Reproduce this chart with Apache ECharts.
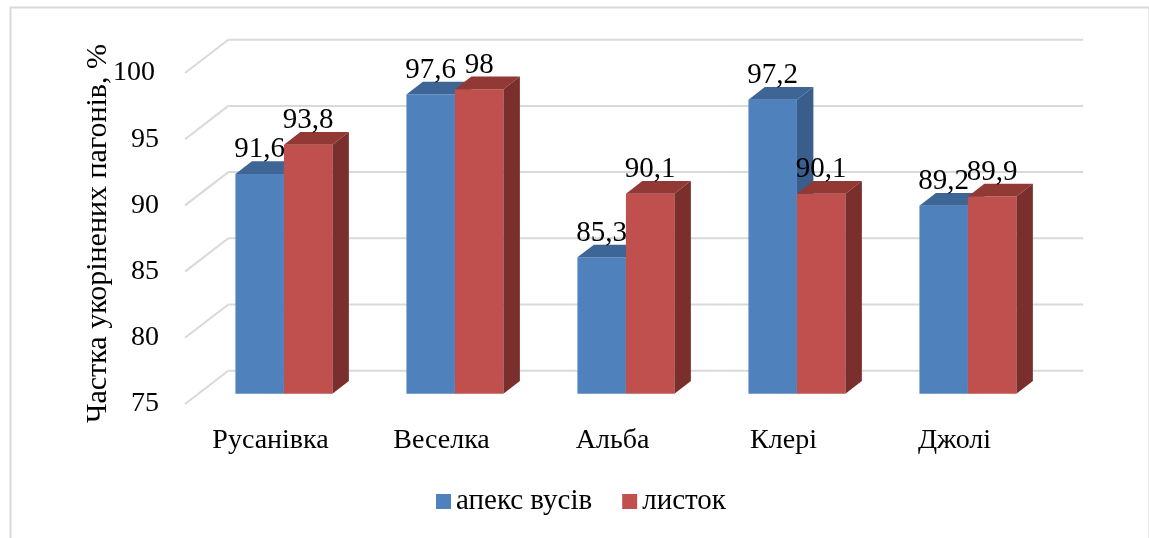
<!DOCTYPE html>
<html>
<head>
<meta charset="utf-8">
<script src="https://cdn.jsdelivr.net/npm/echarts@6/dist/echarts.min.js"></script>
<style>
  html, body { margin: 0; padding: 0; background: #ffffff; }
  #chart { width: 1149px; height: 538px; }
</style>
</head>
<body>
<div id="chart"></div>
<script>
// Rooting share of shoots by cultivar and cutting type
const categories = ['Русанівка', 'Веселка', 'Альба', 'Клері', 'Джолі'];
const apexValues = [91.6, 97.6, 85.3, 97.2, 89.2];   // апекс вусів
const leafValues = [93.8, 98, 90.1, 90.1, 89.9];     // листок
const yTicks = [75, 80, 85, 90, 95, 100];
const seriesNames = ['апекс вусів', 'листок'];

const FONT = '"Liberation Serif", "Times New Roman", serif';

// pseudo-3D geometry: wall depth, bar front offset and bar depth (pixels)
const WALL_DX = 43.3, WALL_DY = 33.3;
const BAR_FRONT = 0.31;   // fraction of wall depth where the bar fronts sit
const BAR_DEPTH = 0.38;   // fraction of wall depth taken by a bar
const BAR_RATIO = 0.2836; // single bar width as share of category band

const palette = [
  { front: '#4f81bd', top: '#3d6596', side: '#395e8b' },
  { front: '#c0504d', top: '#923936', side: '#7a2f2d' }
];

const fmt = v => String(v).replace('.', ',');

function barGeometry(api, catIdx, value, s) {
  const base = api.coord([catIdx, yTicks[0]]);
  const top = api.coord([catIdx, value]);
  const band = api.size([1, 0])[0];
  const bw = band * BAR_RATIO;
  const fdx = WALL_DX * BAR_FRONT, fdy = WALL_DY * BAR_FRONT;
  const x0 = base[0] - bw + s * bw + fdx;
  return {
    x0: x0, x1: x0 + bw,
    yT: top[1] - fdy, yB: base[1] - fdy,
    ddx: WALL_DX * BAR_DEPTH, ddy: WALL_DY * BAR_DEPTH
  };
}

function makeBarRenderer(s) {
  return function (params, api) {
    const i = api.value(0), v = api.value(1);
    const g = barGeometry(api, i, v, s);
    const c = palette[s];
    return {
      type: 'group',
      children: [
        { type: 'rect', shape: { x: g.x0, y: g.yT, width: g.x1 - g.x0, height: g.yB - g.yT },
          style: { fill: c.front } },
        { type: 'polygon', shape: { points: [[g.x0, g.yT], [g.x1, g.yT], [g.x1 + g.ddx, g.yT - g.ddy], [g.x0 + g.ddx, g.yT - g.ddy]] },
          style: { fill: c.top } },
        { type: 'polygon', shape: { points: [[g.x1, g.yT], [g.x1 + g.ddx, g.yT - g.ddy], [g.x1 + g.ddx, g.yB - g.ddy], [g.x1, g.yB]] },
          style: { fill: c.side } }
      ]
    };
  };
}

function renderLabel(params, api) {
  const i = api.value(0), v = api.value(1), s = api.value(2);
  const g = barGeometry(api, i, v, s);
  return {
    type: 'text',
    style: {
      text: fmt(v), x: (g.x0 + g.x1) / 2, y: g.yT - g.ddy + 3,
      align: 'center', verticalAlign: 'bottom',
      font: '29px ' + FONT, fill: '#000000'
    }
  };
}

function renderWall(params, api) {
  const v = api.value(0);
  const cs = params.coordSys;
  const y = api.coord([0, v])[1];
  const lineStyle = { stroke: '#d9d9d9', lineWidth: 2 };
  return {
    type: 'group',
    children: [
      { type: 'line', shape: { x1: cs.x, y1: y, x2: cs.x + WALL_DX, y2: y - WALL_DY }, style: lineStyle },
      { type: 'line', shape: { x1: cs.x + WALL_DX, y1: y - WALL_DY, x2: cs.x + cs.width + WALL_DX, y2: y - WALL_DY }, style: lineStyle }
    ]
  };
}

const labelData = [];
apexValues.forEach((v, i) => labelData.push([i, v, 0]));
leafValues.forEach((v, i) => labelData.push([i, v, 1]));

const chart = echarts.init(document.getElementById('chart'), null, { renderer: 'canvas' });
chart.setOption({
  animation: false,
  backgroundColor: '#ffffff',
  textStyle: { fontFamily: FONT },
  graphic: [{
    type: 'rect', left: 8, top: 5, shape: { width: 1139, height: 560 },
    style: { fill: 'none', stroke: '#d9d9d9', lineWidth: 2 }, silent: true
  }],
  grid: { left: 185, top: 73, width: 855, height: 331 },
  xAxis: {
    type: 'category', data: categories,
    axisLine: { show: false }, axisTick: { show: false },
    axisLabel: { fontSize: 28, color: '#000000', fontFamily: FONT, margin: 23 }
  },
  yAxis: {
    type: 'value', min: 75, max: 100, interval: 5,
    name: 'Частка укорінених пагонів, %',
    nameLocation: 'middle', nameGap: 72, nameMoveOverlap: false,
    nameTextStyle: { fontSize: 30, color: '#000000', fontFamily: FONT, padding: [0, 0, 0, 10] },
    axisLine: { show: false }, axisTick: { show: false }, splitLine: { show: false },
    axisLabel: {
      fontSize: 28, color: '#000000', fontFamily: FONT, margin: 26,
      formatter: v => v === 100 ? '{w|100}' : String(v),
      rich: { w: { fontSize: 28, fontFamily: FONT, color: '#000000', padding: [0, 4, 0, 0] } }
    }
  },
  legend: {
    left: 436, top: 487, padding: 0, icon: 'rect', itemWidth: 15, itemHeight: 15, itemGap: 30,
    textStyle: { fontSize: 29, color: '#000000', fontFamily: FONT },
    data: seriesNames
  },
  series: [
    { type: 'custom', name: 'wall', z: 1, silent: true, renderItem: renderWall,
      data: yTicks.map(t => [t]), encode: { y: 0 } },
    { type: 'custom', name: seriesNames[0], z: 2, renderItem: makeBarRenderer(0),
      itemStyle: { color: palette[0].front },
      data: apexValues.map((v, i) => [i, v]), encode: { x: 0, y: 1 } },
    { type: 'custom', name: seriesNames[1], z: 3, renderItem: makeBarRenderer(1),
      itemStyle: { color: palette[1].front },
      data: leafValues.map((v, i) => [i, v]), encode: { x: 0, y: 1 } },
    { type: 'custom', name: 'labels', z: 4, silent: true, renderItem: renderLabel,
      data: labelData, encode: { x: 0, y: 1 } }
  ]
});
</script>
</body>
</html>
